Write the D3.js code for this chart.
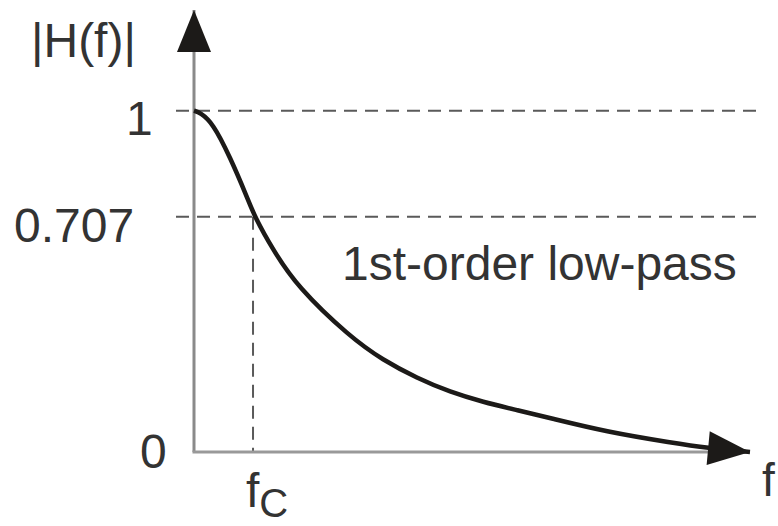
<!DOCTYPE html>
<html>
<head>
<meta charset="utf-8">
<script src="https://cdn.jsdelivr.net/npm/d3@7"></script>
<style>
  html, body { margin: 0; padding: 0; background: #fff; }
  svg { display: block; }
  text { font-family: "Liberation Sans", Arial, sans-serif; fill: #333; }
</style>
</head>
<body>
<div id="chart"></div>
<script>
// 1st-order low-pass magnitude response, schematic.
const freq = [0, 0.10, 0.32, 0.61, 0.90, 1.03, 1.34, 1.75, 2.64, 3.20, 3.78, 4.34, 4.90, 5.47, 6.03, 7.00, 8.12, 8.69, 9.42];
const mag  = [1, 0.995, 0.966, 0.872, 0.761, 0.706, 0.607, 0.496, 0.346, 0.276, 0.222, 0.180, 0.150, 0.126, 0.102, 0.060, 0.027, 0.012, 0];

const yTicks      = [0, 0.707, 1];
const yTickLabels = ["0", "0.707", "1"];
const guideLevels = [1, 0.707];   // dashed horizontal guides
const cutoff      = 1;            // fc
const fMax        = 9.42;

const W = 778, H = 526;

const svg = d3.select("#chart").append("svg")
  .attr("width", W).attr("height", H);

// the picture is a sketch, 0.707 sits a bit lower than a straight linear scale
const x = d3.scaleLinear().domain([0, fMax]).range([194, 750]);
const y = d3.scaleLinear().domain([0, 0.707, 1]).range([452, 216.7, 110.7]);

const defs = svg.append("defs");
defs.append("marker")
  .attr("id", "head")
  .attr("markerUnits", "userSpaceOnUse")
  .attr("viewBox", "-44 -18 46 36")
  .attr("refX", 0).attr("refY", 0)
  .attr("markerWidth", 46).attr("markerHeight", 36)
  .attr("orient", "auto")
  .append("path")
    .attr("d", "M0,0 L-42,-17 L-42,17 Z")
    .attr("fill", "#1c1a18");

// dashed guides
svg.append("g").selectAll("line")
  .data(guideLevels)
  .join("line")
    .attr("x1", 176).attr("x2", 756)
    .attr("y1", d => y(d)).attr("y2", d => y(d))
    .attr("stroke", "#5a5a5a").attr("stroke-width", 2)
    .attr("stroke-dasharray", "13,8");

svg.append("line")
  .attr("x1", x(cutoff)).attr("x2", x(cutoff))
  .attr("y1", y(0.707)).attr("y2", y(0))
  .attr("stroke", "#5a5a5a").attr("stroke-width", 2)
  .attr("stroke-dasharray", "13,8");

// axes
svg.append("line")
  .attr("x1", x(0)).attr("x2", x(0))
  .attr("y1", y(0)).attr("y2", 10)
  .attr("stroke", "#8a8a8a").attr("stroke-width", 3)
  .attr("marker-end", "url(#head)");

svg.append("line")
  .attr("x1", x(0) - 1.5).attr("x2", 715)
  .attr("y1", y(0)).attr("y2", y(0))
  .attr("stroke", "#999").attr("stroke-width", 3);

// response curve, ends in the f-axis arrowhead
const line = d3.line()
  .x((d, i) => x(freq[i]))
  .y(d => y(d))
  .curve(d3.curveBasis);

svg.append("path")
  .datum(mag)
  .attr("d", line)
  .attr("fill", "none")
  .attr("stroke", "#1c1a18")
  .attr("stroke-width", 4.5)
  .attr("marker-end", "url(#head)");

// y tick labels
const labelX = { "0": 140, "0.707": 14, "1": 126 };
const labelDy = { "0": 16, "0.707": 25, "1": 24 };
svg.append("g").selectAll("text")
  .data(yTicks)
  .join("text")
    .attr("x", (d, i) => labelX[yTickLabels[i]])
    .attr("y", (d, i) => y(d) + labelDy[yTickLabels[i]])
    .style("font-size", "48px")
    .text((d, i) => yTickLabels[i]);

svg.append("text")
  .attr("x", 31).attr("y", 57)
  .style("font-size", "48px")
  .text("|H(f)|");

svg.append("text")
  .attr("x", 342).attr("y", 280)
  .style("font-size", "48px")
  .text("1st-order low-pass");

// fc under the cutoff
const fc = svg.append("text")
  .attr("x", x(cutoff) - 7).attr("y", 507)
  .style("font-size", "48px");
fc.append("tspan").text("f");
fc.append("tspan").attr("dy", 10).style("font-size", "40px").text("C");

svg.append("text")
  .attr("x", 762).attr("y", 496)
  .style("font-size", "46px")
  .text("f");
</script>
</body>
</html>
